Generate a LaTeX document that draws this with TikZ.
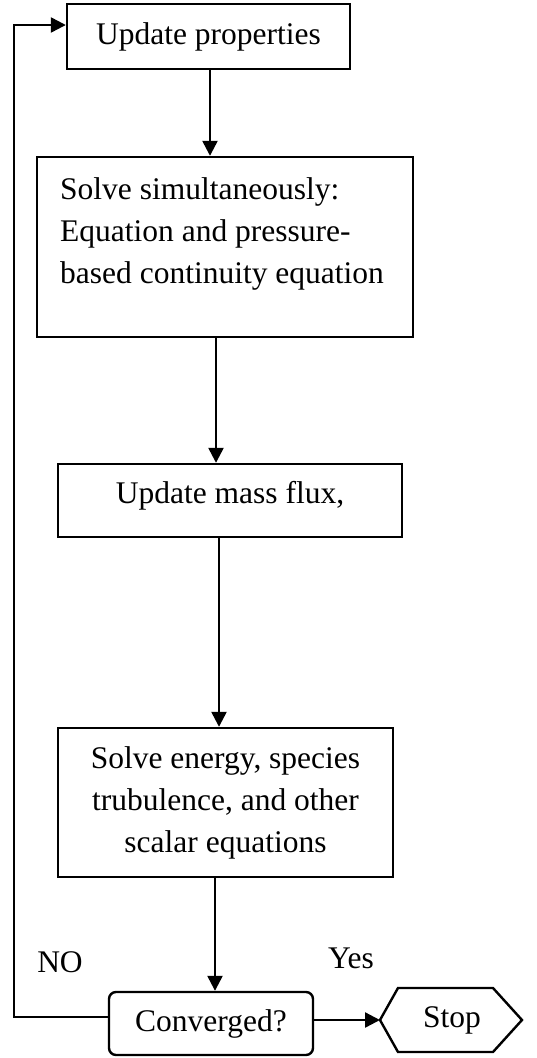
\documentclass[tikz,border=0pt]{standalone}
\usepackage{fontspec}
\setmainfont{Liberation Serif}
\usetikzlibrary{arrows.meta}
\newcommand\figfont{\fontsize{31.5}{42}\selectfont}
\begin{document}
\begin{tikzpicture}[x=1pt,y=-1pt,line width=2.4pt,
  box/.style={draw,line width=2.4pt,inner sep=0pt,font=\figfont},
  txt/.style={inner sep=0pt,font=\figfont},
  arr/.style={line width=2.4pt,-{Triangle[length=15pt,width=15pt]}}]
\useasboundingbox (0,0) rectangle (536,1058);
% boxes
\node[box,minimum width=283pt,minimum height=65pt] (b1) at (208.5,36.5) {Update properties};
\node[box,minimum width=376pt,minimum height=180pt] (b2) at (225,247) {};
\node[txt,anchor=north west,align=left] (t2) at (59,176.5) {Solve simultaneously:\\Equation and pressure-\\based continuity equation};
\node[box,minimum width=344pt,minimum height=73pt] (b3) at (230,500.5) {};
\node[txt,anchor=base] (t3) at (230,503) {Update mass flux,};
\node[box,align=center,minimum width=335pt,minimum height=149pt] (b4) at (225.5,802.5) {Solve energy, species\\trubulence, and other\\scalar equations};
\node[box,rounded corners=7pt,minimum width=204pt,minimum height=63pt] (conv) at (211,1023.5) {Converged?};
% stop hexagon
\coordinate (stoptip) at (380,1020);
\draw (stoptip) -- (398,988) -- (493,988) -- (522,1020) -- (493,1052) -- (398,1052) -- cycle;
\node[txt] (stop) at (452,1020) {Stop};
% labels
\node[txt] (no) at (60,962) {NO};
\node[txt] (yes) at (351,958) {Yes};
% axes for connectors
\coordinate (ax1) at (210,0);
\coordinate (ax2) at (216,0);
\coordinate (ax3) at (219,0);
\coordinate (ax4) at (215,0);
\coordinate (fbl) at (14,1017);
\coordinate (fbt) at (14,25);
% connectors
\draw[arr] (b1.south -| ax1) -- (b2.north -| ax1);
\draw[arr] (b2.south -| ax2) -- (b3.north -| ax2);
\draw[arr] (b3.south -| ax3) -- (b4.north -| ax3);
\draw[arr] (b4.south -| ax4) -- (conv.north -| ax4);
\draw[arr] (conv.east |- stoptip) -- (stoptip);
\draw[arr] (conv.west |- fbl) -- (fbl) |- (b1.west |- fbt);
\end{tikzpicture}
\end{document}
